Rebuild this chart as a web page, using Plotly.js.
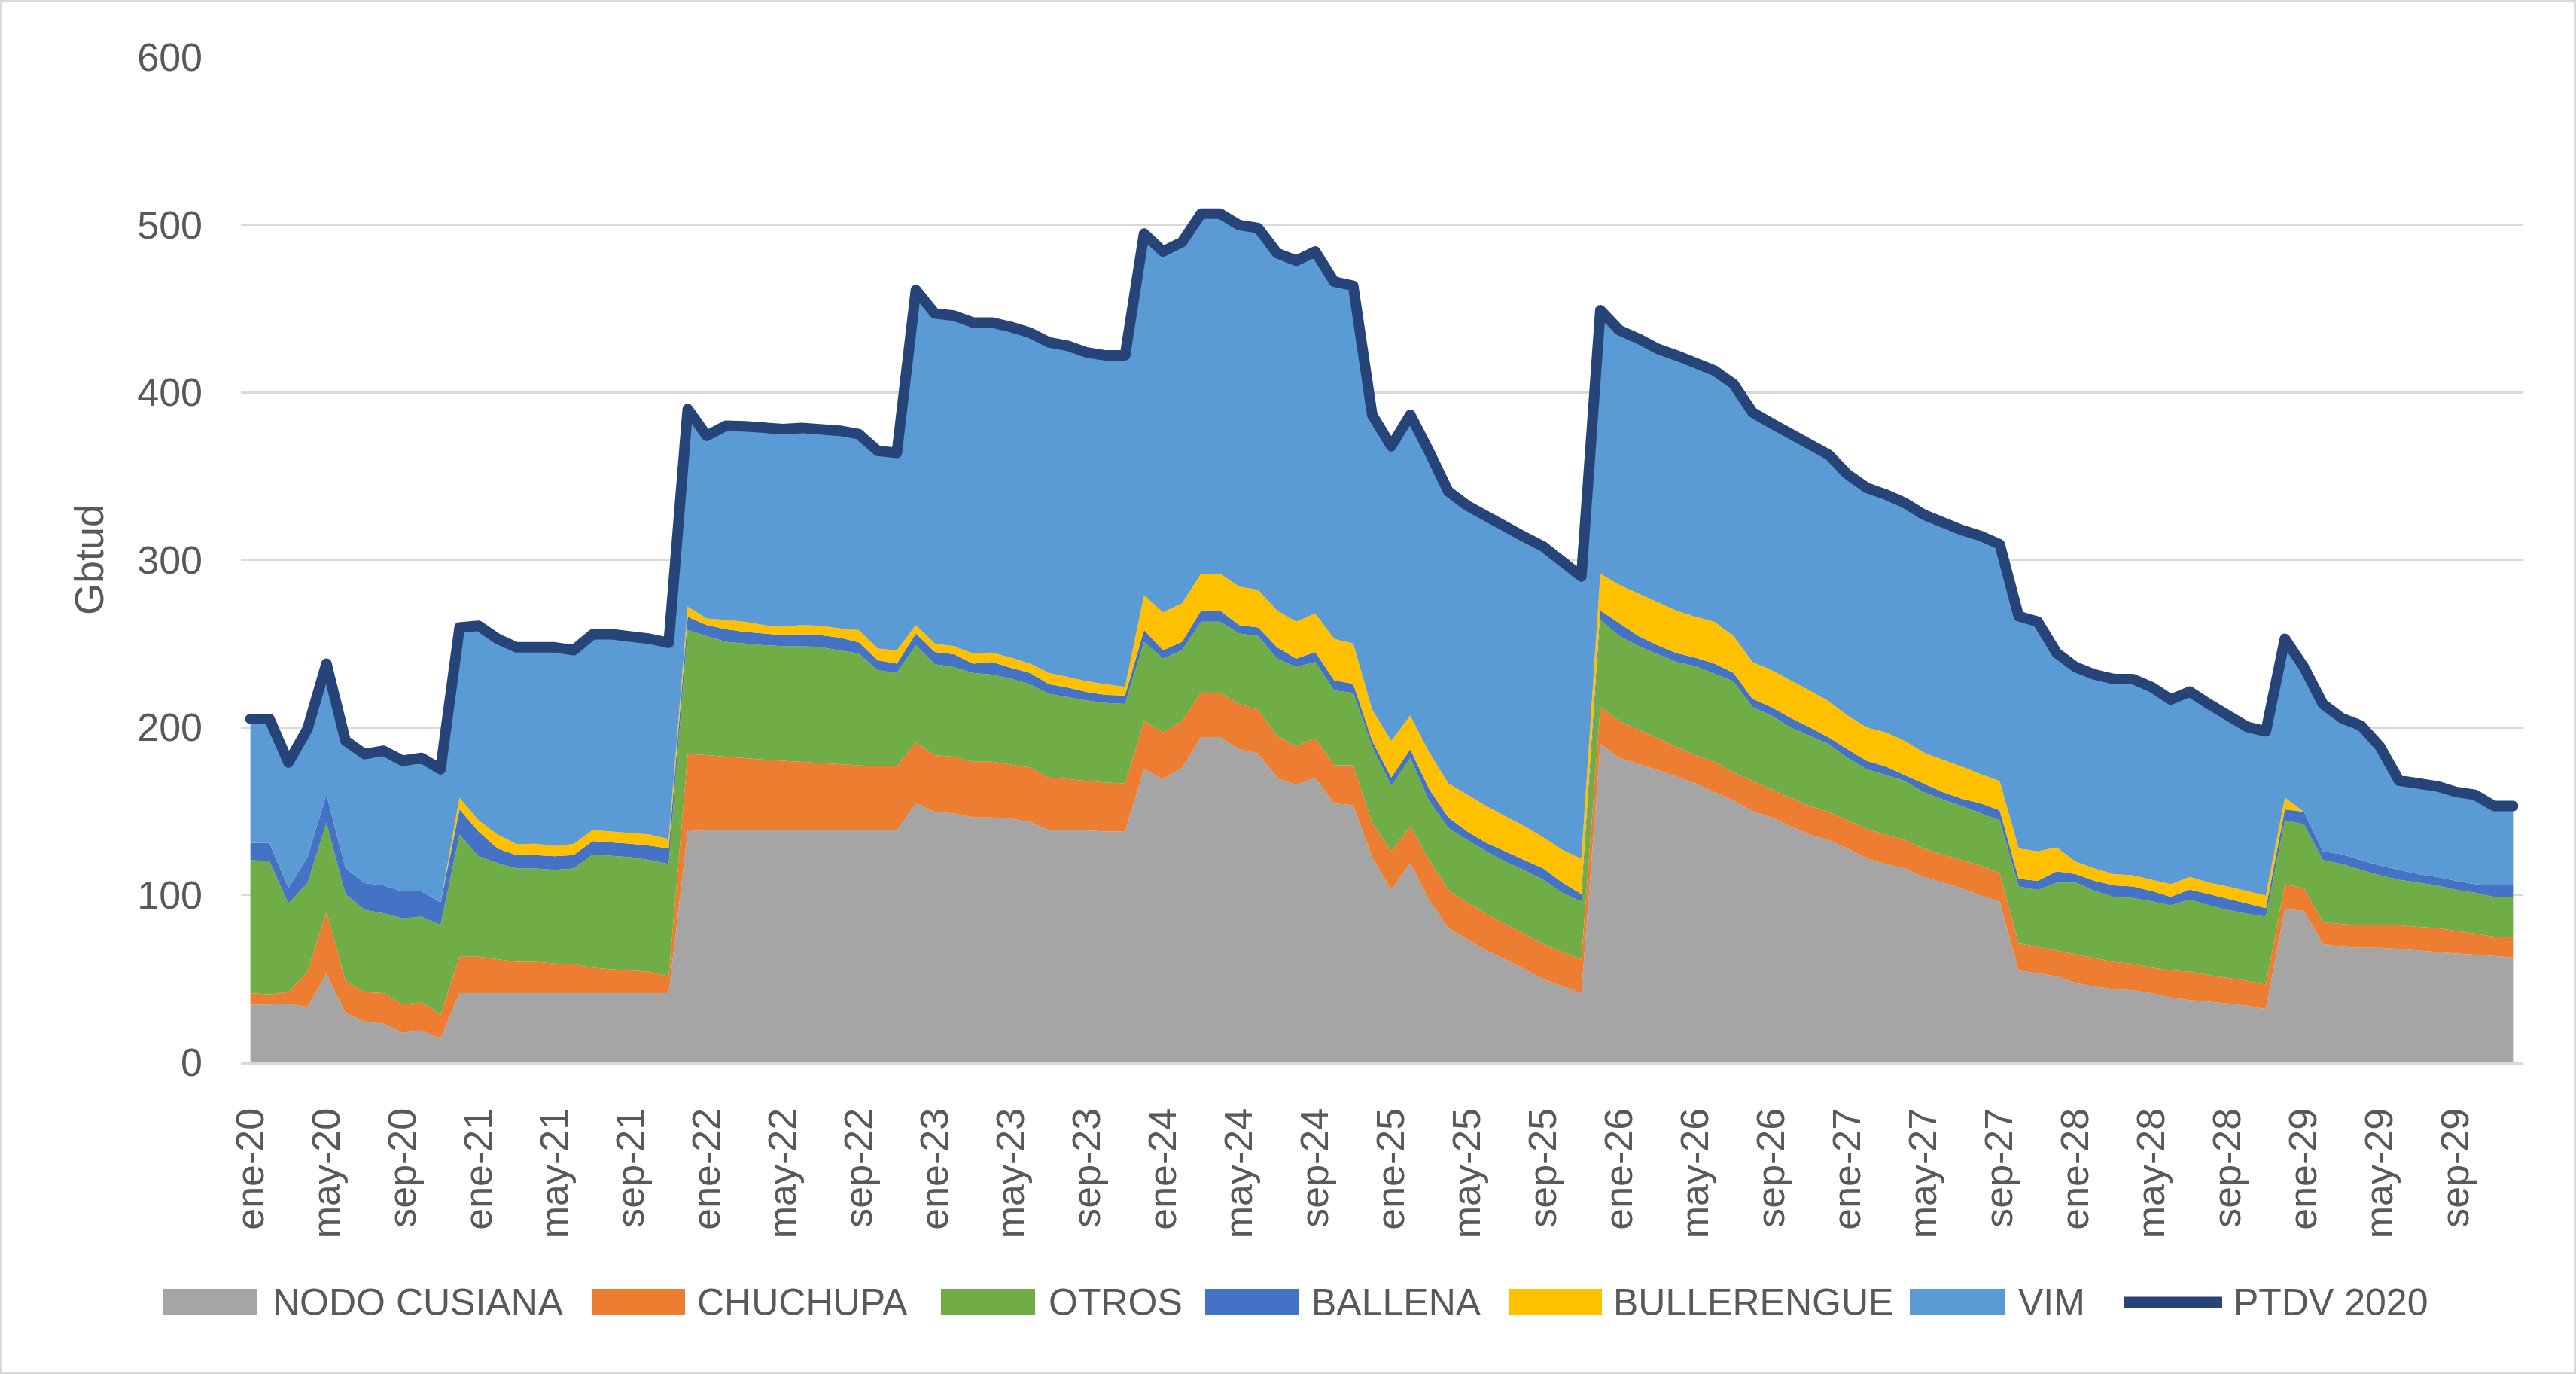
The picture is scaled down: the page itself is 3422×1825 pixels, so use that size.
<!DOCTYPE html>
<html>
<head>
<meta charset="utf-8">
<script src="https://cdn.plot.ly/plotly-3.0.1.min.js"></script>
<style>
html,body{margin:0;padding:0;background:#fff;}
#frame{position:absolute;left:0;top:0;width:3416px;height:1819px;border:3px solid #d9d9d9;background:#fff;}
#chart{width:3416px;height:1819px;}
.js-line{stroke-linejoin:round;stroke-linecap:round;}
</style>
</head>
<body>
<div id="frame"><div id="chart"></div></div>
<script>
const categories = [
"ene-20","feb-20","mar-20","abr-20","may-20","jun-20","jul-20","ago-20","sep-20","oct-20","nov-20","dic-20",
"ene-21","feb-21","mar-21","abr-21","may-21","jun-21","jul-21","ago-21","sep-21","oct-21","nov-21","dic-21",
"ene-22","feb-22","mar-22","abr-22","may-22","jun-22","jul-22","ago-22","sep-22","oct-22","nov-22","dic-22",
"ene-23","feb-23","mar-23","abr-23","may-23","jun-23","jul-23","ago-23","sep-23","oct-23","nov-23","dic-23",
"ene-24","feb-24","mar-24","abr-24","may-24","jun-24","jul-24","ago-24","sep-24","oct-24","nov-24","dic-24",
"ene-25","feb-25","mar-25","abr-25","may-25","jun-25","jul-25","ago-25","sep-25","oct-25","nov-25","dic-25",
"ene-26","feb-26","mar-26","abr-26","may-26","jun-26","jul-26","ago-26","sep-26","oct-26","nov-26","dic-26",
"ene-27","feb-27","mar-27","abr-27","may-27","jun-27","jul-27","ago-27","sep-27","oct-27","nov-27","dic-27",
"ene-28","feb-28","mar-28","abr-28","may-28","jun-28","jul-28","ago-28","sep-28","oct-28","nov-28","dic-28",
"ene-29","feb-29","mar-29","abr-29","may-29","jun-29","jul-29","ago-29","sep-29","oct-29","nov-29","dic-29"
];

const tickLabels = [
"ene-20","may-20","sep-20","ene-21","may-21","sep-21","ene-22","may-22","sep-22","ene-23","may-23","sep-23",
"ene-24","may-24","sep-24","ene-25","may-25","sep-25","ene-26","may-26","sep-26","ene-27","may-27","sep-27",
"ene-28","may-28","sep-28","ene-29","may-29","sep-29"
];

const nodoCusiana = [
34.5,34.5,35,33,53,29.4,24.4,23,17.6,19,14,41.3,
41.3,41.3,41.3,41.3,41.3,41.3,41.3,41.3,41.3,41.3,41.3,138,
138.4,138.4,138.4,138.4,138.4,138.4,138.4,138.4,138.4,138.4,138.4,154.6,
149.6,148.6,146.2,146.2,145.5,143.5,138.7,138.4,138.4,137.7,137.7,175,
168.9,176,194.2,194.2,186.8,184.4,169.9,165.5,169.9,154.6,153.6,122.5,
102.9,119,97,80.2,73.4,66.7,61.6,55.5,49.7,45.5,41.3,190,
181.7,178,174.6,170.6,166.5,161.4,156.3,150,146.2,141,136,132.7,
127.6,121.8,118.4,115.7,110.7,107.3,103.9,99.6,96,54.8,53,51.4,
47.4,45.3,43.7,43,41.3,38.6,37.2,36.2,35.2,33.8,31.8,91.4,
90.4,70.7,69,68.4,68.4,67.7,66.7,66,65,64.3,63.3,62.6
];

const chuchupa = [
6.8,6.1,7,21,37,19.3,17.6,18.3,16.9,17,14.4,21.7,
21.7,20.3,18.7,18.7,17.7,17.2,15.2,14.2,13.5,12.8,10.1,46,
45,44,43,42.3,41.6,41,40.3,39.6,38.9,38.2,38.2,36.2,
33.8,33.8,33.2,33.2,32.2,32.5,31.3,30.5,29.4,29.3,28.8,28.7,
28.1,27.7,26.4,26.4,27.1,26.1,25.1,23,23.7,22.7,23.7,20.3,
23,22,23.8,22.7,22,22,21,21.3,21,20.3,20.3,22,
22,20.6,19,17.9,16.9,18,16.7,18,16.8,17,17,16.9,
16.9,17.6,17.6,17,16.9,16.7,16.9,17.8,17.2,16.2,16,15.3,
16.9,17,16.2,15.9,15.2,16.2,16.9,15.9,15.2,14.9,14.6,14.9,
13.5,12.9,13.6,13.5,13.5,14.2,14.2,14.2,13.5,12.5,11.8,11.9
];

const otros = [
79.5,79.4,52.8,53,53,51.8,49,47.7,51.5,51,53.6,73,
60,57.4,55.7,55.7,56,57.2,67.5,67.7,67.7,66.7,67,74,
71.1,68.6,68.6,68.3,68.4,69,69,68,66.7,57.4,55.9,58.2,
54.2,53.5,53.1,52.1,51.3,49.7,50,49.1,48.2,47.5,47.4,47.3,
44,42.3,42.4,42.4,42.1,44,46,47.4,45.4,44.7,43.3,45.7,
38.9,40.7,35.2,37.1,37.3,37.2,37.2,37.9,38.3,35.4,34.4,52,
50.8,49.8,50.1,50.5,53.1,52.6,54.4,44,44,42,42,40.4,
37.2,35.6,35.6,35.3,33.8,33,32.2,31.3,31.3,33.9,33.9,40.6,
43,39.9,38.9,39.2,39.6,38.9,43,41.6,40.6,40,40.6,38.2,
38.2,37.2,35.8,33.1,29.8,27.1,26.4,25.4,24.4,24.4,23.7,24.3
];

const ballena = [
10.2,11,9.2,15.5,17,15.5,16,16.6,16,15,13.4,15,
14.7,8.6,8,8,8,8,8,8,8,8.5,9.2,8,
6.5,7.5,7,7,6.6,7.1,7.3,7.5,6.7,6,5.5,7,
7.4,7.7,5.5,7.5,6.5,6.8,5.7,5.7,5,4.8,5.1,7,
5,5,6.7,6.7,5,5.1,6.7,5.1,6,6,5.4,3.4,
5.2,5.1,7,6.2,5,5.1,6.1,6.1,6.7,6.1,4.5,5.7,
7.5,6.1,5.3,5.3,5.1,6,5.1,5,5,5.6,5,4,
5.1,5,5,3.6,5.1,4.4,4.4,5.9,5.9,4.7,5.4,6.7,
5.1,6.1,6.8,6.8,6.1,5.1,6.1,6.8,6.8,6.1,5,6.5,
7.5,5.1,5.8,5.8,5.7,6,5.1,5.1,5.4,5.1,6.8,6.8
];

const bullerengue = [
0,0,0,0,0,0,0,0,0,0,0,7,
6.8,8.4,6.5,6.8,6.1,6.6,6.7,6.7,6.4,6.7,5.7,6,
4,5.5,6,5,5,5.5,5.6,5.5,7.3,7,8,5,
5,4.8,6,5.6,6.1,5.5,6.8,6.3,6.4,6.4,5,20.8,
22.7,23,22,22,23,22.4,22,22,23,24.8,24,18.6,
21.9,20.2,22,20.3,22,22,21,20.2,18.6,19.5,21,22,
23,25.5,25.8,25.4,24.4,25,22,22,22,22.4,22,21.6,
20.2,20,20.4,20.3,18.5,19.3,19.2,17.4,17.6,18,17.7,14.3,
7.4,7.4,6.8,6.8,6.8,7.5,7.5,6.8,7.1,7.4,7.5,7,
0,0,0,0,0,0,0,0,0,0,0,0
];

const vim = [
74,74,75,76.5,78,76,77,80.4,78,79.7,79.6,101.6,
116.1,116.8,117.5,117.2,118.6,115.7,116.8,117.6,117.6,116.8,117.1,118,
109,116,116.7,117.7,118,117.7,117.7,118,117,118,117.8,200,
197,197.3,197.6,197,197.4,197.5,197.3,197.7,196.3,196.3,198,215.9,
215.3,215.7,214.9,214.9,215.8,216,213.3,215.5,216,213.2,213.6,176,
175.9,179.5,179.5,174.3,172.6,172.5,172.9,172.7,173.6,172.4,168.5,157.3,
152,152,151.2,152.3,151,149.9,150.5,149,147.4,147.6,148,147.2,
144,143,142,142.1,142,141.3,141.2,142.2,141.3,138.7,137,116,
116.1,115.8,116.4,117.1,115,110.3,110.6,106.6,101.5,98.1,98.1,94.8,
86.3,88,81.2,80.2,71.1,53.2,54.1,54.1,53.1,53.4,47.4,47.4
];

const ptdv2020 = [
205,205,179,199,238,192,184,186,180,181.7,175,259.6,
260.6,252.8,247.7,247.7,247.7,246,255.5,255.5,254.5,252.8,250.4,390,
374,380,379.7,378.7,378,378.7,378.3,377,375,365,363.8,461,
447,445.7,441.6,441.6,439,435.5,429.8,427.7,423.7,422,422,494.7,
484,489.7,506.6,506.6,499.8,498,483,478.5,484,466,463.6,386.5,
367.8,386.5,364.5,340.8,332.3,325.5,319.8,313.7,307.9,299.2,290,449,
437,432,426,422,417,412.9,405,388,381.4,375.6,370,362.8,
351,343,339,334,327,322,317.8,314.2,309.3,266.3,263,244.3,
235.9,231.5,228.8,228.8,224,216.6,221.3,213.9,206.4,200.3,197.6,252.8,
235.9,213.9,205.4,201,188.5,168.2,166.5,164.8,161.4,159.7,153,153
];

const seriesNames = ["NODO CUSIANA","CHUCHUPA","OTROS","BALLENA","BULLERENGUE","VIM","PTDV 2020"];
const seriesColors = ["#A5A5A5","#ED7D31","#70AD47","#4472C4","#FFC000","#5B9BD5","#264478"];
const stackValues = [nodoCusiana, chuchupa, otros, ballena, bullerengue, vim];

const FONT = "Liberation Sans, Arial, sans-serif";
const TXT = "#595959";
const GRID = "#d9d9d9";

const traces = stackValues.map((vals, k) => ({
  type: "scatter",
  x: categories,
  y: vals,
  name: seriesNames[k],
  stackgroup: "one",
  mode: "lines",
  line: {width: 0, color: seriesColors[k]},
  fillcolor: seriesColors[k],
  showlegend: false,
  hoverinfo: "skip"
}));
traces.push({
  type: "scatter",
  x: categories,
  y: ptdv2020,
  name: seriesNames[6],
  mode: "lines",
  line: {width: 14, color: seriesColors[6]},
  showlegend: false,
  hoverinfo: "skip"
});

// page geometry
const W = 3416, H = 1819, OFF = 3;
const M = {l: 317, r: 68, t: 73, b: 411};
const pw = W - M.l - M.r, ph = H - M.t - M.b;
const px = X => (X - OFF - M.l) / pw;
const py = Y => (H - M.b - (Y - OFF)) / ph;

// boundary tick marks every 4 months plus the end
const boundaries = [];
for (let i = 0; i < categories.length; i += 4) boundaries.push(i - 0.5);
boundaries.push(categories.length - 0.5);

// custom legend (Excel style wide swatches)
const legendItems = [
  {s0: 217, s1: 341, t: 360},
  {s0: 786, s1: 910, t: 924},
  {s0: 1250, s1: 1375, t: 1391},
  {s0: 1601, s1: 1726, t: 1740},
  {s0: 2004, s1: 2128, t: 2141},
  {s0: 2537, s1: 2663, t: 2679},
  {s0: 2822, s1: 2952, t: 2965}
];
const shapes = [], annotations = [];
legendItems.forEach((it, k) => {
  if (k < 6) {
    shapes.push({type: "rect", xref: "paper", yref: "paper",
      x0: px(it.s0), x1: px(it.s1), y0: py(1747), y1: py(1712),
      fillcolor: seriesColors[k], line: {width: 0}});
  } else {
    shapes.push({type: "line", xref: "paper", yref: "paper",
      x0: px(it.s0), x1: px(it.s1), y0: py(1730), y1: py(1730),
      line: {color: seriesColors[k], width: 15}});
  }
  annotations.push({xref: "paper", yref: "paper", x: px(it.t), y: py(1730),
    xanchor: "left", yanchor: "middle", showarrow: false, text: seriesNames[k],
    font: {family: FONT, size: 50, color: TXT}});
});

const layout = {
  width: W, height: H,
  margin: M,
  paper_bgcolor: "#ffffff",
  plot_bgcolor: "#ffffff",
  showlegend: false,
  font: {family: FONT, color: TXT, size: 52},
  xaxis: {
    type: "category",
    categoryorder: "array",
    categoryarray: categories,
    range: [-0.5, categories.length - 0.5],
    tickmode: "array",
    tickvals: tickLabels,
    ticktext: tickLabels,
    tickangle: -90,
    ticks: "",
    ticklabelstandoff: 36,
    tickfont: {family: FONT, size: 52, color: TXT},
    showgrid: false,
    zeroline: false,
    showline: true,
    linecolor: GRID,
    linewidth: 4,
    fixedrange: true
  },
  xaxis2: {
    overlaying: "x",
    anchor: "y",
    side: "bottom",
    type: "linear",
    range: [-0.5, categories.length - 0.5],
    tickmode: "array",
    tickvals: boundaries,
    ticks: "outside",
    ticklen: 19,
    tickwidth: 5,
    tickcolor: GRID,
    showticklabels: false,
    showgrid: false,
    zeroline: false,
    showline: false,
    fixedrange: true
  },
  yaxis: {
    range: [0, 600],
    tick0: 0,
    dtick: 100,
    ticks: "",
    ticklabelstandoff: 50,
    tickfont: {family: FONT, size: 52, color: TXT},
    showgrid: true,
    gridcolor: GRID,
    gridwidth: 3,
    zeroline: false,
    showline: false,
    fixedrange: true,
    title: {text: "Gbtud", font: {family: FONT, size: 54, color: TXT}, standoff: 27}
  },
  shapes: shapes,
  annotations: annotations
};

Plotly.newPlot("chart", traces, layout, {displayModeBar: false, staticPlot: true});
</script>
</body>
</html>
